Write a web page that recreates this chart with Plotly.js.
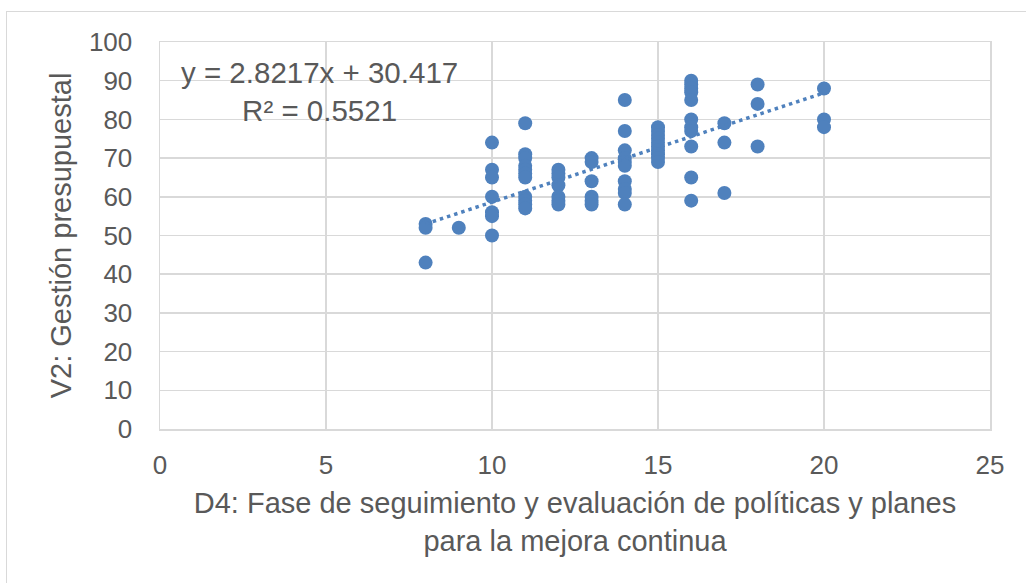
<!DOCTYPE html>
<html>
<head>
<meta charset="utf-8">
<script src="https://cdn.plot.ly/plotly-3.0.1.min.js"></script>
<style>
  html, body { margin: 0; padding: 0; background: #ffffff; overflow: hidden; }
  #frame { position: absolute; left: 6px; top: 11px; width: 1030px; height: 580px; border: 1px solid #d9d9d9; box-sizing: border-box; }
  #chart { position: absolute; left: 0; top: 0; width: 1026px; height: 583px; }
</style>
</head>
<body>
<div id="frame"></div>
<div id="chart"></div>
<script>
// D4 scores (x) and V2 scores (y)
const xValues = [
  8, 8, 8,
  9,
  10, 10, 10, 10, 10, 10, 10,
  11, 11, 11, 11, 11, 11, 11, 11, 11, 11, 11,
  12, 12, 12, 12, 12, 12, 12,
  13, 13, 13, 13, 13, 13,
  14, 14, 14, 14, 14, 14, 14, 14, 14, 14,
  15, 15, 15, 15, 15, 15, 15, 15, 15, 15,
  16, 16, 16, 16, 16, 16, 16, 16, 16, 16, 16,
  17, 17, 17,
  18, 18, 18,
  20, 20, 20
];
const yValues = [
  53, 52, 43,
  52,
  74, 67, 65, 60, 56, 55, 50,
  79, 71, 70, 68, 67, 66, 65, 60, 59, 58, 57,
  67, 66, 65, 63, 60, 59, 58,
  70, 69, 64, 60, 59, 58,
  85, 77, 72, 70, 69, 68, 64, 62, 61, 58,
  78, 77, 76, 75, 74, 73, 72, 71, 70, 69,
  90, 89, 88, 87, 85, 80, 78, 77, 73, 65, 59,
  79, 74, 61,
  89, 84, 73,
  88, 80, 78
];

// Linear trendline shown in the chart
const slope = 2.8217;
const intercept = 30.417;
const rSquared = 0.5521;
const trendX = [Math.min(...xValues), Math.max(...xValues)];
const trendY = trendX.map(v => slope * v + intercept);

const xTicks = [0, 5, 10, 15, 20, 25];
const yTicks = [0, 10, 20, 30, 40, 50, 60, 70, 80, 90, 100];

const blue = '#4f81bd';
const textGray = '#595959';
const gridGray = '#d9d9d9';
const fontFam = 'Arial, "Liberation Sans", sans-serif';

const traces = [
  {
    type: 'scatter', mode: 'markers',
    x: xValues, y: yValues,
    marker: { color: blue, size: 14, line: { width: 0 } },
    hoverinfo: 'x+y', showlegend: false
  },
  {
    type: 'scatter', mode: 'lines',
    x: trendX, y: trendY,
    line: { color: blue, width: 3.5, dash: '3.5px,4px' },
    hoverinfo: 'skip', showlegend: false
  }
];

const layout = {
  width: 1026, height: 583,
  margin: { l: 160, r: 36, t: 42, b: 154, pad: 0 },
  paper_bgcolor: 'rgba(0,0,0,0)',
  plot_bgcolor: '#ffffff',
  font: { family: fontFam, color: textGray, size: 26 },
  showlegend: false,
  xaxis: {
    range: [0, 25], tickvals: xTicks, ticktext: xTicks.map(String),
    showgrid: true, gridcolor: gridGray, gridwidth: 1.5,
    zeroline: false, showline: true, linecolor: gridGray, linewidth: 1.5, mirror: true,
    ticks: '', ticklabelstandoff: 12,
    tickfont: { size: 26, color: textGray, family: fontFam },
    automargin: false,
    title: { text: 'D4: Fase de seguimiento y evaluación de políticas y planes<br>para la mejora continua',
             font: { size: 29, color: textGray, family: fontFam }, standoff: 14 }
  },
  yaxis: {
    range: [0, 100], tickvals: yTicks, ticktext: yTicks.map(String),
    showgrid: true, gridcolor: gridGray, gridwidth: 1.5,
    zeroline: false, showline: true, linecolor: gridGray, linewidth: 1.5, mirror: true,
    ticks: '', ticklabelstandoff: 21,
    tickfont: { size: 26, color: textGray, family: fontFam },
    automargin: false,
    title: { text: 'V2: Gestión presupuestal',
             font: { size: 29, color: textGray, family: fontFam }, standoff: 9 }
  },
  annotations: [
    {
      x: 4.8, y: 87.3, xref: 'x', yref: 'y',
      text: 'y = ' + slope + 'x + ' + intercept + '<br>R² = ' + rSquared,
      showarrow: false, align: 'center',
      font: { size: 29.5, color: textGray, family: fontFam }
    }
  ]
};

Plotly.newPlot('chart', traces, layout, { displayModeBar: false, staticPlot: true });
</script>
</body>
</html>
